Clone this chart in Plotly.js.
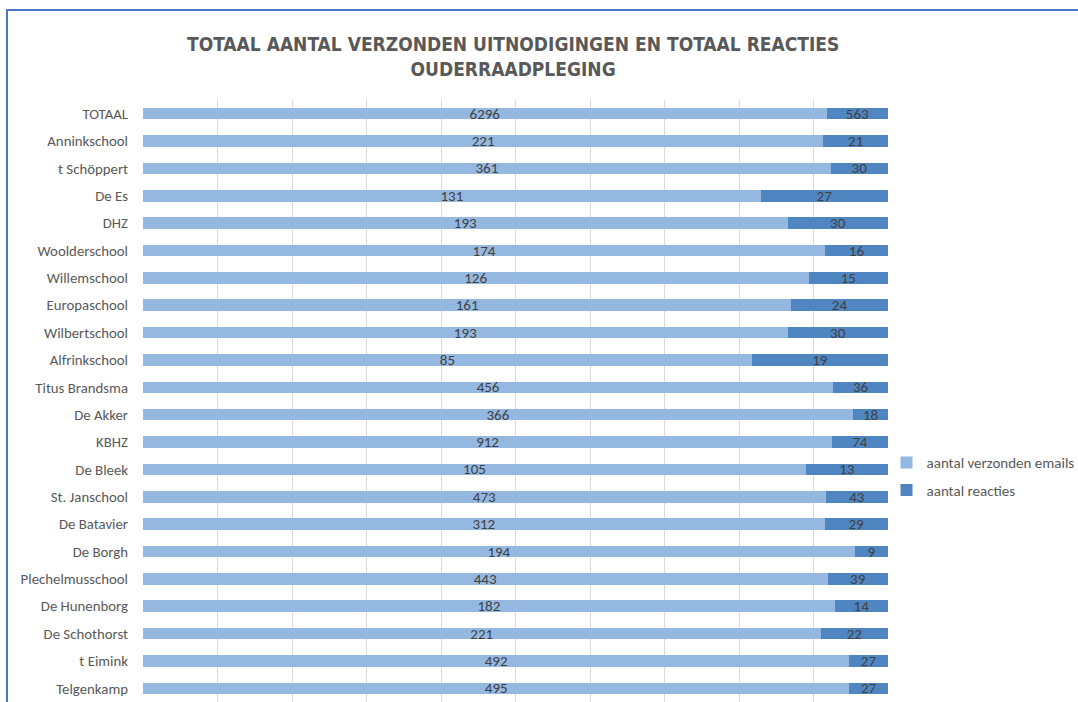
<!DOCTYPE html>
<html>
<head>
<meta charset="utf-8">
<script src="https://cdn.plot.ly/plotly-3.0.1.min.js"></script>
<style>
  html, body { margin: 0; padding: 0; background: #fff; }
  #wrap { position: relative; width: 1078px; height: 702px; overflow: hidden; }
  #chart { position: absolute; left: 0; top: 0; width: 1078px; height: 702px; }
  #frame { position: absolute; left: 6px; top: 9px; width: 1090px; height: 720px;
           border-top: 2px solid #4a77c6; border-left: 2px solid #4a77c6; pointer-events: none; }
</style>
</head>
<body>
<div id="wrap">
  <div id="chart"></div>
  <div id="frame"></div>
</div>
<script>
const categories = ["TOTAAL", "Anninkschool", "t Schöppert", "De Es", "DHZ", "Woolderschool",
  "Willemschool", "Europaschool", "Wilbertschool", "Alfrinkschool", "Titus Brandsma", "De Akker",
  "KBHZ", "De Bleek", "St. Janschool", "De Batavier", "De Borgh", "Plechelmusschool",
  "De Hunenborg", "De Schothorst", "t Eimink", "Telgenkamp"];
const verzonden = [6296, 221, 361, 131, 193, 174, 126, 161, 193, 85, 456, 366, 912, 105, 473, 312, 194, 443, 182, 221, 492, 495];
const reacties  = [563, 21, 30, 27, 30, 16, 15, 24, 30, 19, 36, 18, 74, 13, 43, 29, 9, 39, 14, 22, 27, 27];
const seriesNames = ["aantal verzonden emails", "aantal reacties"];

const fontFam = "Carlito, 'Liberation Sans', Arial, sans-serif";
const titleFam = "'DejaVu Sans Condensed', 'Liberation Sans Narrow', 'Liberation Sans', sans-serif";
const common = {
  type: 'bar', orientation: 'h', y: categories,
  textposition: 'inside', insidetextanchor: 'middle', constraintext: 'none', textangle: 0,
  texttemplate: '%{customdata}',
  textfont: {family: fontFam, size: 15, color: '#404040'},
  hoverinfo: 'skip', cliponaxis: false
};
const traces = [
  Object.assign({}, common, {name: seriesNames[0], legendgroup: 'a', x: verzonden, customdata: verzonden, marker: {color: '#95b8e0'}}),
  Object.assign({}, common, {name: seriesNames[1], legendgroup: 'b', x: reacties, customdata: reacties, marker: {color: '#4f86c1'}})
];

const layout = {
  width: 1078, height: 702,
  margin: {l: 143, r: 190, t: 100, b: 0, pad: 0, autoexpand: false},
  paper_bgcolor: '#ffffff', plot_bgcolor: '#ffffff',
  barmode: 'stack', barnorm: 'percent', bargap: 0.58,
  uniformtext: {mode: 'show', minsize: 15},
  title: {
    text: 'TOTAAL AANTAL VERZONDEN UITNODIGINGEN EN TOTAAL REACTIES<br>OUDERRAADPLEGING',
    font: {family: titleFam, size: 19, color: '#595959', weight: 'bold'},
    x: 0.476, xanchor: 'center', y: 0.927, yanchor: 'middle'
  },
  xaxis: {
    range: [0, 100.0001], dtick: 10, tick0: 0, showticklabels: false, ticks: '',
    showgrid: true, gridcolor: '#d9d9d9', gridwidth: 1, zeroline: false, showline: false,
    fixedrange: true
  },
  yaxis: {
    type: 'category', autorange: 'reversed', showgrid: false, zeroline: false, showline: false,
    ticks: '', ticklabelstandoff: 14,
    tickfont: {family: fontFam, size: 14.8, color: '#595959'}, fixedrange: true
  },
  showlegend: true,
  legend: {
    x: 0.998, xanchor: 'left', y: 0.375, yanchor: 'middle', traceorder: 'grouped',
    font: {family: fontFam, size: 15, color: '#595959'}, itemwidth: 30, tracegroupgap: 5,
    bgcolor: 'rgba(0,0,0,0)'
  }
};

Plotly.newPlot('chart', traces, layout, {displayModeBar: false, staticPlot: true});
</script>
</body>
</html>
